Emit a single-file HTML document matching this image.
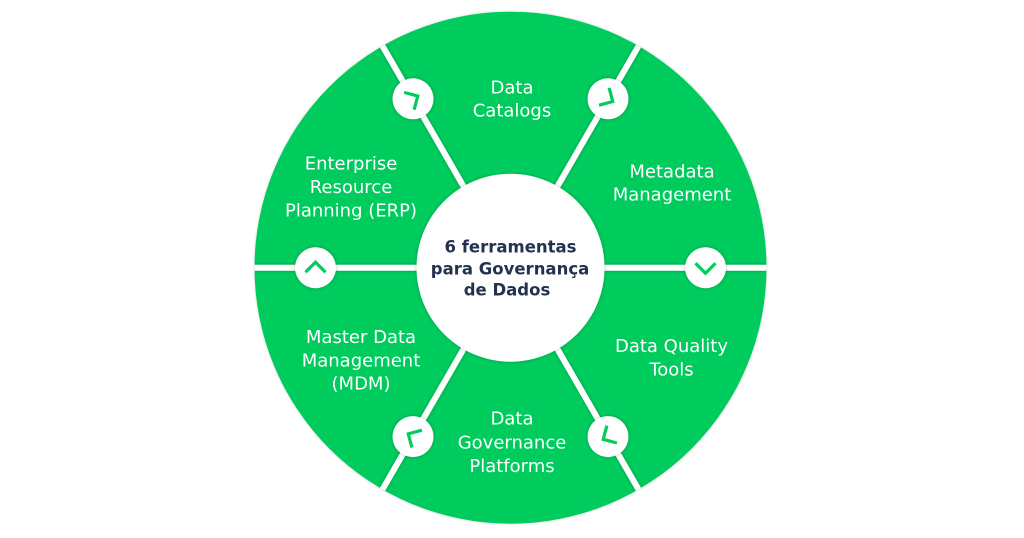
<!DOCTYPE html>
<html>
<head>
<meta charset="utf-8">
<style>
  html, body { margin: 0; padding: 0; background: #ffffff; }
  body { width: 1024px; height: 538px; overflow: hidden; }
  svg { display: block; }
  .lbl { font-family: "DejaVu Sans", "Liberation Sans", sans-serif; font-size: 18px; fill: #ffffff; text-anchor: middle; }
  .ttl { font-family: "DejaVu Sans", "Liberation Sans", sans-serif; font-weight: bold; font-size: 16.5px; fill: #23324f; text-anchor: middle; }
</style>
</head>
<body>
<svg width="1024" height="538" viewBox="0 0 1024 538" xmlns="http://www.w3.org/2000/svg">
  <defs>
    <filter id="sh" x="-20%" y="-20%" width="140%" height="140%">
      <feDropShadow dx="0" dy="0" stdDeviation="1.6" flood-color="#000000" flood-opacity="0.28"/>
    </filter>
    <filter id="sh2" x="-10%" y="-10%" width="120%" height="120%">
      <feDropShadow dx="0" dy="0" stdDeviation="1.2" flood-color="#000000" flood-opacity="0.18"/>
    </filter>
    <clipPath id="disc">
      <circle cx="510.5" cy="267.7" r="256"/>
    </clipPath>
  </defs>

  <!-- main green disc -->
  <circle cx="510.5" cy="267.7" r="256" fill="#03cb5d" filter="url(#sh2)"/>

  <!-- spokes / gaps -->
  <g clip-path="url(#disc)">
    <g stroke="#ffffff" stroke-width="6" filter="url(#sh)">
      <line x1="510.5" y1="267.7" x2="780" y2="267.7"/>
      <line x1="510.5" y1="267.7" x2="241" y2="267.7"/>
      <line x1="510.5" y1="267.7" x2="645.5" y2="33.9"/>
      <line x1="510.5" y1="267.7" x2="375.5" y2="33.9"/>
      <line x1="510.5" y1="267.7" x2="645.5" y2="501.5"/>
      <line x1="510.5" y1="267.7" x2="375.5" y2="501.5"/>
    </g>
  </g>

  <!-- small circles -->
  <g fill="#ffffff" filter="url(#sh)">
    <circle cx="315.5" cy="267.7" r="20.5"/>
    <circle cx="413" cy="98.8" r="20.5"/>
    <circle cx="608" cy="98.8" r="20.5"/>
    <circle cx="705.5" cy="267.7" r="20.5"/>
    <circle cx="608" cy="436.6" r="20.5"/>
    <circle cx="413" cy="436.6" r="20.5"/>
  </g>

  <!-- chevrons -->
  <g fill="none" stroke="#03cb5d" stroke-width="3.2" stroke-linecap="butt" stroke-linejoin="miter">
    <path d="M-10 4.5 L0 -5.5 L10 4.5" transform="translate(315.5 267.7) rotate(0)"/>
    <path d="M-10 4.5 L0 -5.5 L10 4.5" transform="translate(413 98.8) rotate(60)"/>
    <path d="M-10 4.5 L0 -5.5 L10 4.5" transform="translate(608 98.8) rotate(120)"/>
    <path d="M-10 4.5 L0 -5.5 L10 4.5" transform="translate(705.5 267.7) rotate(180)"/>
    <path d="M-10 4.5 L0 -5.5 L10 4.5" transform="translate(608 436.6) rotate(240)"/>
    <path d="M-10 4.5 L0 -5.5 L10 4.5" transform="translate(413 436.6) rotate(300)"/>
  </g>

  <!-- inner circle -->
  <circle cx="510.5" cy="267.7" r="94" fill="#ffffff" filter="url(#sh)"/>

  <!-- title -->
  <text class="ttl" x="510.5" y="252.7">6 ferramentas</text>
  <text class="ttl" x="510" y="274.3">para Governança</text>
  <text class="ttl" x="507" y="295.5">de Dados</text>

  <!-- labels -->
  <text class="lbl" x="512" y="93.3">Data</text>
  <text class="lbl" x="512" y="116.7">Catalogs</text>

  <text class="lbl" x="351" y="169.3">Enterprise</text>
  <text class="lbl" x="351" y="193">Resource</text>
  <text class="lbl" x="351" y="216.7">Planning (ERP)</text>

  <text class="lbl" x="672" y="177.3">Metadata</text>
  <text class="lbl" x="672" y="200.7">Management</text>

  <text class="lbl" x="361" y="343">Master Data</text>
  <text class="lbl" x="361" y="366.3">Management</text>
  <text class="lbl" x="361" y="389.7">(MDM)</text>

  <text class="lbl" x="671.5" y="352">Data Quality</text>
  <text class="lbl" x="671.5" y="375.3">Tools</text>

  <text class="lbl" x="512" y="424.7">Data</text>
  <text class="lbl" x="512" y="448.3">Governance</text>
  <text class="lbl" x="512" y="472">Platforms</text>
</svg>
</body>
</html>
